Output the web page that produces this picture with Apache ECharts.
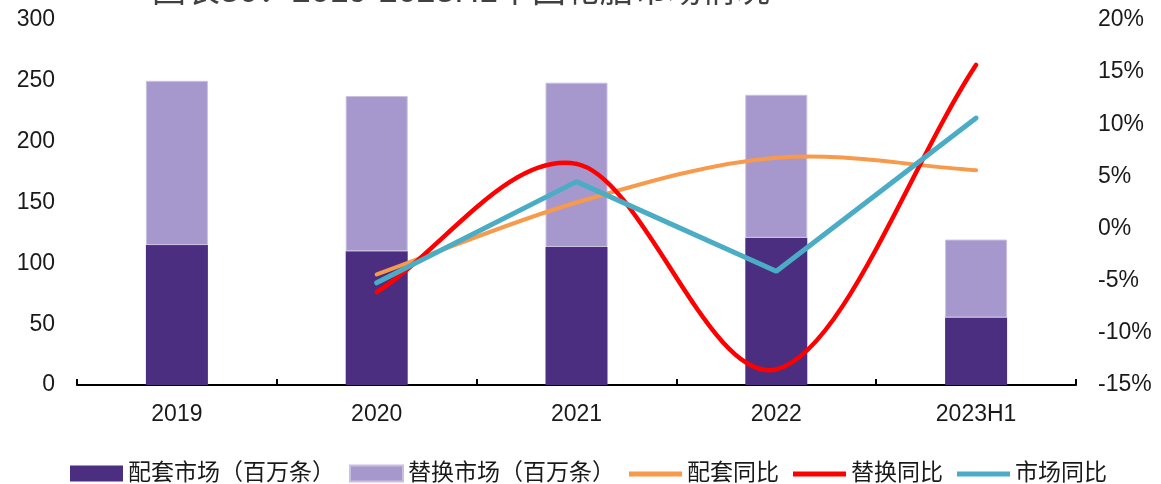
<!DOCTYPE html>
<html>
<head>
<meta charset="utf-8">
<script src="https://cdn.jsdelivr.net/npm/echarts@6/dist/echarts.min.js"></script>
<style>
  html, body { margin: 0; padding: 0; background: #ffffff; }
  #chart { width: 1161px; height: 484px; }
</style>
</head>
<body>
<div id="chart"></div>
<script>
// China tyre market, 2019–2023H1
const titleText = '图表30：2019-2023H1中国轮胎市场情况';
const categories = ['2019', '2020', '2021', '2022', '2023H1'];

// Volumes, million tyres (left axis, stacked)
const oeMarket = [115, 110, 113.5, 121, 55.5];          // 配套市场
const replacementMarket = [135, 127.5, 135, 117.5, 64]; // 替换市场

// Year-on-year growth, % (right axis)
const oeYoY = [null, -4.4, 2.5, 6.8, 5.6];              // 配套同比
const replacementYoY = [null, -6.1, 6.2, -13.5, 15.7];  // 替换同比
const marketYoY = [null, -5.2, 4.5, -4.1, 10.6];        // 市场同比

const leftTicks = { min: 0, max: 300, interval: 50 };
const rightTicks = { min: -15, max: 20, interval: 5 };

const FONT = '"Liberation Sans", "Noto Sans CJK SC", sans-serif';
const TEXT = '#1a1a1a';
const COLORS = {
  oe: '#4B2E80', rep: '#A698CC',
  oeYoY: '#F79A4B', repYoY: '#FF0000', mktYoY: '#4BACC6'
};

// Legend glyph for line series: a thick horizontal stroke inside a 53x16 box
const LINE_ICON = 'path://M0,0M0,6L53,6L53,11L0,11ZM53,16';

// Catmull-Rom style smoothed line drawn segment by segment through the axis scales
function smoothLineSeries(name, values, color, width) {
  const pts = values.map((v, i) => [i, v]);
  return {
    name,
    type: 'custom',
    xAxisIndex: 0,
    yAxisIndex: 1,
    data: pts,
    itemStyle: { color },
    z: 3,
    renderItem(params, api) {
      const i = params.dataIndex;
      const valid = k => k >= 0 && k < values.length && values[k] != null;
      if (!valid(i) || !valid(i - 1)) return null;
      const P = k => api.coord([k, values[k]]);
      const p1 = P(i - 1), p2 = P(i);
      const p0 = valid(i - 2) ? P(i - 2) : p1;
      const p3 = valid(i + 1) ? P(i + 1) : p2;
      const t1x = valid(i - 2) ? (p2[0] - p0[0]) / 2 : (p2[0] - p1[0]);
      const t1y = valid(i - 2) ? (p2[1] - p0[1]) / 2 : (p2[1] - p1[1]);
      const t2x = valid(i + 1) ? (p3[0] - p1[0]) / 2 : (p2[0] - p1[0]);
      const t2y = valid(i + 1) ? (p3[1] - p1[1]) / 2 : (p2[1] - p1[1]);
      return {
        type: 'bezierCurve',
        shape: {
          x1: p1[0], y1: p1[1],
          cpx1: p1[0] + t1x / 3, cpy1: p1[1] + t1y / 3,
          cpx2: p2[0] - t2x / 3, cpy2: p2[1] - t2y / 3,
          x2: p2[0], y2: p2[1]
        },
        style: { stroke: color, lineWidth: width, fill: null, lineCap: 'round' }
      };
    }
  };
}

const chart = echarts.init(document.getElementById('chart'), null, { renderer: 'canvas' });

chart.setOption({
  animation: false,
  backgroundColor: '#ffffff',
  textStyle: { fontFamily: FONT, color: TEXT },
  graphic: [{
    type: 'text',
    left: 152,
    top: -24,
    style: { text: titleText, fontSize: 34, fill: '#404040', fontFamily: FONT }
  }],
  grid: { left: 77, right: 85, top: 20, bottom: 99, containLabel: false },
  legend: {
    left: 65,
    top: 457,
    itemWidth: 53,
    itemHeight: 16,
    itemGap: 14,
    textStyle: { fontSize: 23, color: TEXT, fontFamily: FONT },
    data: [
      { name: '配套市场（百万条）', icon: 'rect' },
      { name: '替换市场（百万条）', icon: 'rect' },
      { name: '配套同比', icon: LINE_ICON, itemStyle: { color: COLORS.oeYoY } },
      { name: '替换同比', icon: LINE_ICON, itemStyle: { color: COLORS.repYoY } },
      { name: '市场同比', icon: LINE_ICON, itemStyle: { color: COLORS.mktYoY } }
    ]
  },
  xAxis: {
    type: 'category',
    data: categories,
    boundaryGap: true,
    axisLine: { lineStyle: { color: '#000', width: 2 } },
    axisTick: { show: true, inside: true, length: 6, lineStyle: { color: '#000', width: 2 } },
    axisLabel: { fontSize: 23, color: TEXT, margin: 18, fontFamily: FONT }
  },
  yAxis: [{
    type: 'value',
    min: leftTicks.min, max: leftTicks.max, interval: leftTicks.interval,
    axisLine: { show: false },
    axisTick: { show: false },
    splitLine: { show: false },
    axisLabel: { fontSize: 23, color: TEXT, margin: 22, fontFamily: FONT }
  }, {
    type: 'value',
    min: rightTicks.min, max: rightTicks.max, interval: rightTicks.interval,
    position: 'right',
    axisLine: { show: false },
    axisTick: { show: false },
    splitLine: { show: false },
    axisLabel: { fontSize: 23, color: TEXT, margin: 22, formatter: '{value}%', fontFamily: FONT }
  }],
  series: [{
    name: '配套市场（百万条）',
    type: 'bar',
    stack: 'volume',
    barWidth: 62,
    data: oeMarket,
    itemStyle: { color: COLORS.oe }
  }, {
    name: '替换市场（百万条）',
    type: 'bar',
    stack: 'volume',
    barWidth: 62,
    data: replacementMarket,
    itemStyle: { color: COLORS.rep, borderColor: '#C9BFE2', borderWidth: 1 }
  },
  smoothLineSeries('配套同比', oeYoY, COLORS.oeYoY, 4),
  smoothLineSeries('替换同比', replacementYoY, COLORS.repYoY, 4.5),
  {
    name: '市场同比',
    type: 'line',
    yAxisIndex: 1,
    symbol: 'none',
    z: 4,
    data: marketYoY,
    lineStyle: { color: COLORS.mktYoY, width: 5, cap: 'round' },
    itemStyle: { color: COLORS.mktYoY }
  }]
});
</script>
</body>
</html>
